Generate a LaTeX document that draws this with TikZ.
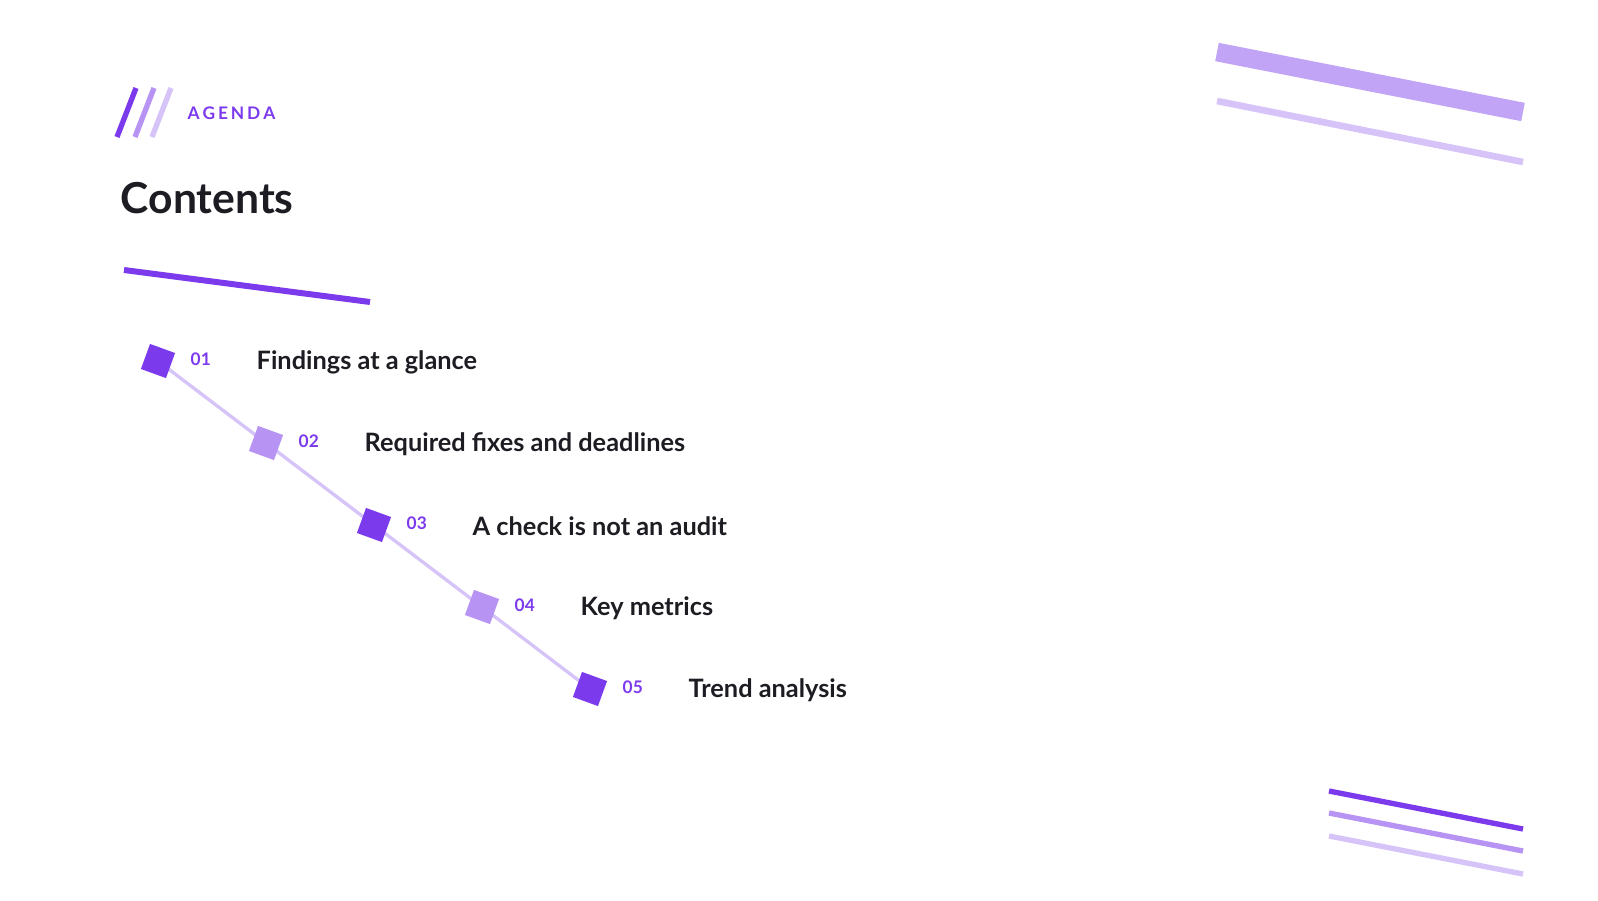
\documentclass[tikz,border=0pt]{standalone}
\usepackage{fontspec}
\setmainfont{Lato}
\usetikzlibrary{positioning}
\definecolor{agDark}{HTML}{7C3AED}
\definecolor{agMid}{HTML}{B794F4}
\definecolor{agLight}{HTML}{D6C4F8}
\definecolor{agInk}{HTML}{1C1C22}
\tikzset{
  marker/.style={rectangle, minimum size=20pt, inner sep=0pt, rotate=-20},
  num/.style={font=\fontsize{13}{15}\selectfont\bfseries, text=agDark, anchor=west},
  item/.style={font=\fontsize{19}{22}\selectfont\bfseries, text=agInk, anchor=west},
  deco/.style={line cap=butt}
}
\begin{document}
\begin{tikzpicture}[x=0.75pt, y=-0.75pt]
  \useasboundingbox (0,0) rectangle (1598,900);
  % header
  \draw [deco, agDark, line width=4pt] (117,137) -- (136,88);
  \draw [deco, agMid, line width=4pt] (135,137) -- (154,88);
  \draw [deco, agLight, line width=4pt] (152,137) -- (171,88);
  \node [anchor=west, font=\fontsize{13}{15}\selectfont\bfseries, text=agDark] (tag) at (183,113) {A\,G\,E\,N\,D\,A};
  \node [anchor=west, font=\fontsize{32}{36}\selectfont\bfseries, text=agInk] (title) at (116,198) {Contents};
  \draw [deco, agDark, line width=4.5pt] (124,270) -- (370,302);
  % corner bars
  \draw [deco, color=agMid!85, line width=14pt] (1217,52) -- (1523,112);
  \draw [deco, agLight, line width=5pt] (1217,101) -- (1523,162);
  \draw [deco, agDark, line width=4pt] (1329,791) -- (1523,829);
  \draw [deco, agMid, line width=4pt] (1329,813) -- (1523,851);
  \draw [deco, agLight, line width=4pt] (1329,836) -- (1523,874);
  % items
  \foreach \i/\txt/\col [count=\k from 0] in {01/Findings at a glance/agDark,
      02/Required fixes and deadlines/agMid, 03/A check is not an audit/agDark,
      04/Key metrics/agMid, 05/Trend analysis/agDark} {
    \coordinate (c\i) at (158+108*\k, 361+82*\k);
  }
  \draw [agLight, line width=2.5pt] (c01) -- (c05);
  \foreach \i/\txt/\col [count=\k from 0] in {01/Findings at a glance/agDark,
      02/Required fixes and deadlines/agMid, 03/A check is not an audit/agDark,
      04/Key metrics/agMid, 05/Trend analysis/agDark} {
    \node [marker, fill=\col] (m\i) at (c\i) {};
    \node [num] (n\i) at (186+108*\k, 359+82*\k) {\i};
    \node [item] (t\i) at (252+108*\k, 362+82*\k) {\txt};
  }
\end{tikzpicture}
\end{document}
